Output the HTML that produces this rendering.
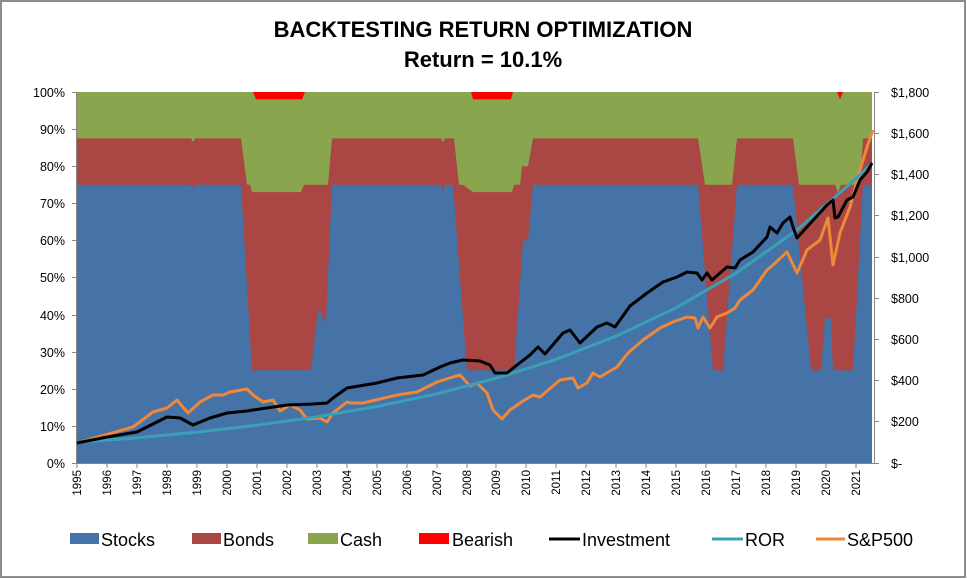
<!DOCTYPE html>
<html><head><meta charset="utf-8"><style>
html,body{margin:0;padding:0;background:#fff;}
svg{display:block;font-family:"Liberation Sans",sans-serif;}
</style></head><body>
<svg width="967" height="579" viewBox="0 0 967 579" xmlns="http://www.w3.org/2000/svg">
<rect x="1" y="1" width="964" height="576" fill="#fff" stroke="#8c8c8c" stroke-width="2"/>
<text x="483" y="37" text-anchor="middle" font-size="22" font-weight="bold" fill="#000">BACKTESTING RETURN OPTIMIZATION</text>
<text x="483" y="67" text-anchor="middle" font-size="22" font-weight="bold" fill="#000">Return = 10.1%</text>

<!-- areas -->
<g transform="translate(0,463) scale(1,-3.71)">
<rect x="77" y="0" width="795" height="100" fill="#89a54e"/>
<polygon fill="#aa4643" points="77,0 77,87.5 191,87.5 193,86.5 195,87.5 241,87.5 247,75 250,75 252,73 301,73 304,75 328,75 332,87.5 441,87.5 443,86.5 445,87.5 454,87.5 459,75 463,75 473,73 512,73 514,75 520,75 522,80 528,80 533,87.5 698,87.5 705,75 732,75 737,87.5 793,87.5 799,75 835,75 838,72.8 841,75 860,75 863,87.5 872,87.5 872,0"/>
<polygon fill="#4572a7" points="77,0 77,75 191,75 193,74 195,75 241,75 252,25 311,25 318,41 321,41 324,38 326,38 332,75 441,75 443,73 445,75 453,75 467,25 514,25 523,60 528,60 533,75 698,75 713,25 723,25 737,75 793,75 811,25 821,25 825,39 831,39 833,25 853,25 863,75 872,75 872,0"/>
<polygon fill="#ff0000" points="253,100 305,100 302,98 256,98"/>
<polygon fill="#ff0000" points="471,100 513,100 511,98 473,98"/>
<polygon fill="#ff0000" points="837,100 843,100 840,98"/>
</g>

<!-- axes -->
<g stroke="#868686" stroke-width="1" fill="none">
<line x1="76.5" y1="92" x2="76.5" y2="463"/>
<line x1="874.5" y1="92" x2="874.5" y2="463"/>
<line x1="72" y1="463.5" x2="874" y2="463.5"/>
<path d="M72 92.5h5M72 129.5h5M72 166.5h5M72 203.5h5M72 240.5h5M72 277.5h5M72 315.5h5M72 352.5h5M72 389.5h5M72 426.5h5"/>
<path d="M874 92.5h5M874 133.5h5M874 174.5h5M874 215.5h5M874 257.5h5M874 298.5h5M874 339.5h5M874 380.5h5M874 421.5h5M874 463.5h5"/>
<path d="M77 463v5M107 463v5M137 463v5M167 463v5M197 463v5M227 463v5M257 463v5M287 463v5M317 463v5M347 463v5M377 463v5M407 463v5M437 463v5M467 463v5M496 463v5M526 463v5M556 463v5M586 463v5M616 463v5M646 463v5M676 463v5M706 463v5M736 463v5M766 463v5M796 463v5M826 463v5M856 463v5"/>
</g>
<g font-size="12.5" fill="#000" text-anchor="end">
<text x="65" y="97">100%</text><text x="65" y="134">90%</text><text x="65" y="171">80%</text><text x="65" y="208">70%</text><text x="65" y="245">60%</text><text x="65" y="282">50%</text><text x="65" y="320">40%</text><text x="65" y="357">30%</text><text x="65" y="394">20%</text><text x="65" y="431">10%</text><text x="65" y="468">0%</text>
</g>
<g font-size="12.5" fill="#000">
<text x="891" y="97">$1,800</text><text x="891" y="138">$1,600</text><text x="891" y="179">$1,400</text><text x="891" y="220">$1,200</text><text x="891" y="262">$1,000</text><text x="891" y="303">$800</text><text x="891" y="344">$600</text><text x="891" y="385">$400</text><text x="891" y="426">$200</text><text x="891" y="468">$-</text>
</g>
<g font-size="11.5" fill="#000" text-anchor="end">
<text transform="translate(81,470) rotate(-90)">1995</text><text transform="translate(111,470) rotate(-90)">1996</text><text transform="translate(141,470) rotate(-90)">1997</text><text transform="translate(171,470) rotate(-90)">1998</text><text transform="translate(201,470) rotate(-90)">1999</text><text transform="translate(231,470) rotate(-90)">2000</text><text transform="translate(261,470) rotate(-90)">2001</text><text transform="translate(291,470) rotate(-90)">2002</text><text transform="translate(321,470) rotate(-90)">2003</text><text transform="translate(351,470) rotate(-90)">2004</text><text transform="translate(381,470) rotate(-90)">2005</text><text transform="translate(411,470) rotate(-90)">2006</text><text transform="translate(441,470) rotate(-90)">2007</text><text transform="translate(471,470) rotate(-90)">2008</text><text transform="translate(500,470) rotate(-90)">2009</text><text transform="translate(530,470) rotate(-90)">2010</text><text transform="translate(560,470) rotate(-90)">2011</text><text transform="translate(590,470) rotate(-90)">2012</text><text transform="translate(620,470) rotate(-90)">2013</text><text transform="translate(650,470) rotate(-90)">2014</text><text transform="translate(680,470) rotate(-90)">2015</text><text transform="translate(710,470) rotate(-90)">2016</text><text transform="translate(740,470) rotate(-90)">2017</text><text transform="translate(770,470) rotate(-90)">2018</text><text transform="translate(800,470) rotate(-90)">2019</text><text transform="translate(830,470) rotate(-90)">2020</text><text transform="translate(860,470) rotate(-90)">2021</text>
</g>

<!-- lines -->
<polyline fill="none" stroke="#f0883a" stroke-width="3" stroke-linejoin="round" points="77,443 133,427 153,412 167,408 177,400 188,413 200,402 213,395 223,395 230,392 247,389 253,395 263,402 273,400 280,411 290,405 300,410 307,419 320,418 327,422 333,413 347,402 350,403 363,403 397,395 417,392 437,382 453,377 460,375 470,386 477,383 487,393 493,410 502,419 510,410 523,401 533,395 540,397 560,380 573,378 578,388 587,383 593,373 600,377 617,367 628,353 643,340 660,328 673,322 687,317 695,318 698,328 703,317 710,328 717,317 727,313 735,308 740,300 753,290 767,270 773,265 787,252 797,273 807,250 820,240 828,218 833,265 840,233 850,207 860,170 867,147 873,130"/>
<polyline fill="none" stroke="#3a9fb8" stroke-width="3" stroke-linejoin="round" points="77,442.4 137,437.8 197,432.1 257,425.2 317,416.8 377,406.5 437,393.8 496,378.3 556,359.4 616,336.2 676,307.8 736,273.1 796,230.7 856,178.8 871,164"/>
<polyline fill="none" stroke="#000" stroke-width="3" stroke-linejoin="round" points="77,443 107,437 137,432 167,417 180,418 193,425 210,418 227,413 247,411 253,410 287,405 313,404 327,403 333,398 347,388 353,387 377,383 397,378 423,375 440,367 450,363 463,360 480,361 490,365 495,373 507,373 517,365 530,355 538,347 545,354 563,333 570,330 580,343 597,327 607,323 615,327 630,306 647,293 663,282 677,277 687,272 697,273 702,280 707,273 712,280 720,273 727,267 735,268 740,260 753,252 767,237 770,227 777,233 783,223 790,217 793,227 797,238 807,227 827,205 833,200 835,218 838,217 847,200 853,197 860,180 867,172 872,163"/>

<!-- legend -->
<g font-size="18" fill="#000">
<rect x="70" y="533" width="29" height="11" fill="#4572a7"/><text x="101" y="546">Stocks</text>
<rect x="192" y="533" width="29" height="11" fill="#aa4643"/><text x="223" y="546">Bonds</text>
<rect x="308" y="533" width="30" height="11" fill="#89a54e"/><text x="340" y="546">Cash</text>
<rect x="419" y="533" width="30" height="11" fill="#ff0000"/><text x="452" y="546">Bearish</text>
<line x1="549" y1="539" x2="580" y2="539" stroke="#000" stroke-width="3"/><text x="582" y="546">Investment</text>
<line x1="712" y1="539" x2="743" y2="539" stroke="#3a9fb8" stroke-width="3"/><text x="745" y="546">ROR</text>
<line x1="816" y1="539" x2="845" y2="539" stroke="#f0883a" stroke-width="3"/><text x="847" y="546">S&amp;P500</text>
</g>
</svg>
</body></html>
